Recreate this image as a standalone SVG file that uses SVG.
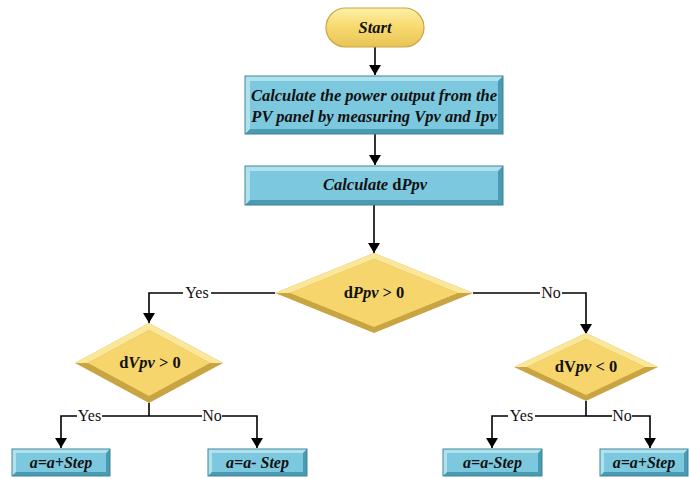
<svg xmlns="http://www.w3.org/2000/svg" width="689" height="479" viewBox="0 0 689 479">
  <defs>
    <marker id="arrow" viewBox="0 0 10 12" refX="10" refY="6" markerWidth="10" markerHeight="12" markerUnits="userSpaceOnUse" orient="auto">
      <path d="M0,0 L10,6 L0,12 Z" fill="#000"/>
    </marker>
    <linearGradient id="pill" x1="0" y1="0" x2="0" y2="1">
      <stop offset="0" stop-color="#fdf0a8"/>
      <stop offset="0.45" stop-color="#f8db72"/>
      <stop offset="1" stop-color="#e8c455"/>
    </linearGradient>
  </defs>
  <style>
    .bdark { fill: #4a9ab1; }
    .blight { fill: #b0e2ee; }
    .bmain { fill: #7cc9df; }
    .bedge { fill: none; stroke: #3f8399; stroke-width: 1; }
    .ddark { fill: #c9a443; }
    .dlight { fill: #fbe79a; }
    .dmain { fill: #f6d66c; }
    .t { font-family: 'Liberation Serif', 'Times New Roman', 'DejaVu Serif', serif; font-weight: bold; font-style: italic; fill: #111; text-anchor: middle; }
    .dt { font-family: 'Liberation Serif', 'Times New Roman', 'DejaVu Serif', serif; font-weight: bold; font-size: 16.5px; fill: #111; text-anchor: middle; }
    .it { font-style: italic; }
    .lbl { font-family: 'Liberation Serif', 'Times New Roman', 'DejaVu Serif', serif; font-size: 16px; fill: #111; text-anchor: middle; }
    .ln { fill: none; stroke: #000; stroke-width: 1.6; }
  </style>

  <!-- connectors -->
  <g id="connectors">
    <path class="ln" d="M375,47 V75" marker-end="url(#arrow)"/>
    <path class="ln" d="M375,134 V165" marker-end="url(#arrow)"/>
    <path class="ln" d="M374,205 V253" marker-end="url(#arrow)"/>
    <!-- dPpv > 0 : Yes / No -->
    <path class="ln" d="M275,293 H211"/>
    <path class="ln" d="M183,293 H149 V323" marker-end="url(#arrow)"/>
    <text class="lbl" x="197" y="298">Yes</text>
    <path class="ln" d="M473,293 H540"/>
    <path class="ln" d="M562,293 H586 V334" marker-end="url(#arrow)"/>
    <text class="lbl" x="551" y="298">No</text>
    <!-- dVpv > 0 : Yes / No -->
    <path class="ln" d="M149,403 V416"/>
    <path class="ln" d="M149,416 H102"/>
    <path class="ln" d="M77,416 H61 V448" marker-end="url(#arrow)"/>
    <text class="lbl" x="89.5" y="421">Yes</text>
    <path class="ln" d="M149,416 H202"/>
    <path class="ln" d="M222,416 H257 V448" marker-end="url(#arrow)"/>
    <text class="lbl" x="212" y="421">No</text>
    <!-- dVpv < 0 : Yes / No -->
    <path class="ln" d="M586,401 V416"/>
    <path class="ln" d="M586,416 H535"/>
    <path class="ln" d="M508,416 H492 V448" marker-end="url(#arrow)"/>
    <text class="lbl" x="521.5" y="421">Yes</text>
    <path class="ln" d="M586,416 H612"/>
    <path class="ln" d="M632,416 H650 V448" marker-end="url(#arrow)"/>
    <text class="lbl" x="622" y="421">No</text>
  </g>

  <!-- start terminal -->
  <g id="start">
    <rect x="326" y="8" width="98" height="39" rx="19.5" fill="url(#pill)" stroke="#c9a543" stroke-width="1.2"/>
    <text class="t" x="375" y="33" font-size="16.5">Start</text>
  </g>

  <!-- calculate power -->
  <g id="calc-power">
    <rect class="bdark" x="245" y="76" width="258" height="58"/>
    <polygon class="blight" points="245,76 503,76 498,81 250,81 250,129 245,134"/>
    <rect class="bmain" x="250" y="81" width="248" height="48"/>
    <rect class="bedge" x="245" y="76" width="258" height="58"/>
    <text class="t" x="374" y="101" font-size="16.5">Calculate the power output from the</text>
    <text class="t" x="374" y="122" font-size="16.5">PV panel by measuring Vpv and Ipv</text>
  </g>

  <!-- calculate dPpv -->
  <g id="calc-dppv">
    <rect class="bdark" x="245" y="166" width="258" height="39"/>
    <polygon class="blight" points="245,166 503,166 498,171 250,171 250,200 245,205"/>
    <rect class="bmain" x="250" y="171" width="248" height="29"/>
    <rect class="bedge" x="245" y="166" width="258" height="39"/>
    <text class="t" x="375" y="190" font-size="16.5">Calculate <tspan font-style="normal">d</tspan>Ppv</text>
  </g>

  <!-- decision dPpv > 0 -->
  <g id="dec-dppv">
    <polygon class="ddark" points="374,253 473,293 374,333 275,293"/>
    <polygon class="dlight" points="275,293 374,253 473,293 458,293 374,259 290,293"/>
    <polygon class="dmain" points="374,259 458,293 374,327 290,293"/>
    <text class="dt" x="374" y="298">d<tspan class="it">Ppv</tspan> &gt; 0</text>
  </g>

  <!-- decision dVpv > 0 -->
  <g id="dec-dvpv-pos">
    <polygon class="ddark" points="149,323 223,363 149,403 75,363"/>
    <polygon class="dlight" points="75,363 149,323 223,363 210,363 149,330 88,363"/>
    <polygon class="dmain" points="149,330 210,363 149,396 88,363"/>
    <text class="dt" x="150" y="368">d<tspan class="it">Vpv</tspan> &gt; 0</text>
  </g>

  <!-- decision dVpv < 0 -->
  <g id="dec-dvpv-neg">
    <polygon class="ddark" points="586,333 658,367 586,401 514,367"/>
    <polygon class="dlight" points="514,367 586,333 658,367 645,367 586,339 527,367"/>
    <polygon class="dmain" points="586,339 645,367 586,395 527,367"/>
    <text class="dt" x="586" y="372">dV<tspan class="it">pv</tspan> &lt; 0</text>
  </g>

  <!-- update boxes -->
  <g id="inc-left">
    <rect class="bdark" x="12" y="449" width="98" height="27"/>
    <polygon class="blight" points="12,449 110,449 106,453 16,453 16,472 12,476"/>
    <rect class="bmain" x="16" y="453" width="90" height="19"/>
    <rect class="bedge" x="12" y="449" width="98" height="27"/>
    <text class="t" x="61" y="468" font-size="16">a=a+Step</text>
  </g>
  <g id="dec-left">
    <rect class="bdark" x="208" y="449" width="99" height="27"/>
    <polygon class="blight" points="208,449 307,449 303,453 212,453 212,472 208,476"/>
    <rect class="bmain" x="212" y="453" width="91" height="19"/>
    <rect class="bedge" x="208" y="449" width="99" height="27"/>
    <text class="t" x="257.5" y="468" font-size="16">a=a- Step</text>
  </g>
  <g id="dec-right">
    <rect class="bdark" x="443" y="449" width="99" height="27"/>
    <polygon class="blight" points="443,449 542,449 538,453 447,453 447,472 443,476"/>
    <rect class="bmain" x="447" y="453" width="91" height="19"/>
    <rect class="bedge" x="443" y="449" width="99" height="27"/>
    <text class="t" x="492.5" y="468" font-size="16">a=a-Step</text>
  </g>
  <g id="inc-right">
    <rect class="bdark" x="600" y="449" width="88" height="27"/>
    <polygon class="blight" points="600,449 688,449 684,453 604,453 604,472 600,476"/>
    <rect class="bmain" x="604" y="453" width="80" height="19"/>
    <rect class="bedge" x="600" y="449" width="88" height="27"/>
    <text class="t" x="644" y="468" font-size="16">a=a+Step</text>
  </g>
</svg>
